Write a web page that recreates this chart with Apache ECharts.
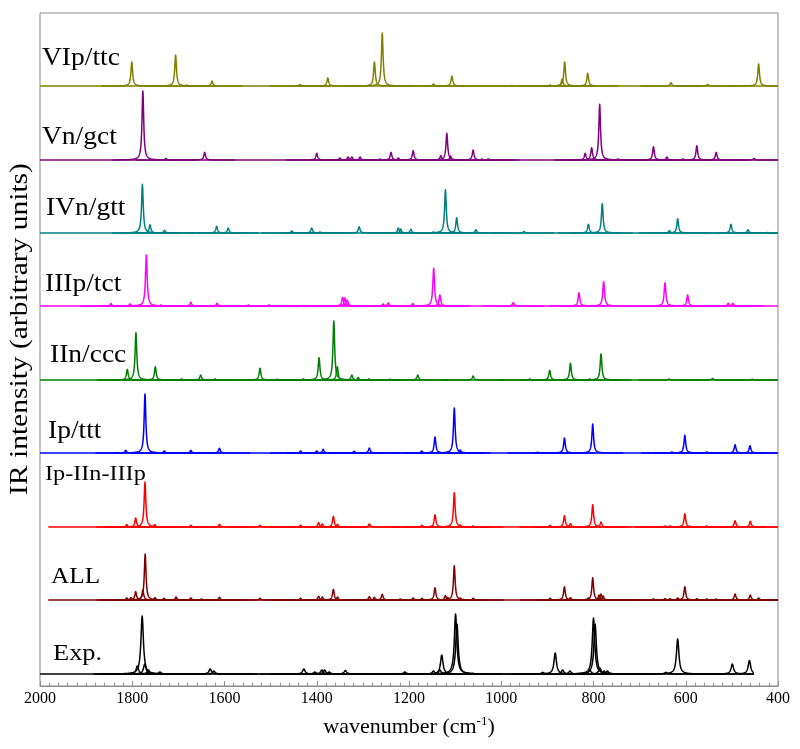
<!DOCTYPE html>
<html><head><meta charset="utf-8">
<script src="https://cdn.jsdelivr.net/npm/echarts@6/dist/echarts.min.js"></script>
<style>html,body{margin:0;padding:0;background:#fff}#c{width:800px;height:749px}</style>
</head><body><div id="c"></div><script>
// ---------- data ----------
const traceNames = ['Exp.', 'ALL', 'Ip-IIn-IIIp', 'Ip/ttt', 'IIn/ccc', 'IIIp/tct', 'IVn/gtt', 'Vn/gct', 'VIp/ttc'];
// vertical offset (arbitrary units) of each trace's baseline
const traceOffsets = [12, 86, 159, 233, 306, 380, 453, 526, 600];
// wavenumber range covered by each trace [start, end]
const traceRanges = [[2000, 452], [1982, 400], [1982, 400], [2000, 400], [2000, 400], [2000, 400], [2000, 400], [2000, 400], [2000, 400]];
const xTickValues = [2000, 1800, 1600, 1400, 1200, 1000, 800, 600, 400];

// peaks: [wavenumber (cm-1), intensity (arb. units)]
const peaksExp = [[1789,8],[1778.5,58],[1773,10],[1765,4],[1740,2],[1631,5],[1623,3],[1428,5],[1404,2],[1389,4],[1383,4],[1373,2],[1338,3.5],[1209,2],[1147,3],[1133,4],[1129,19],[1099,60],[1096,50],[910,1.7],[883,21],[867,4],[851,3],[808,4],[800,56],[796.5,50],[786,6],[777,3],[770,3],[643,1.7],[617.5,35],[499,10],[462,13.5]];
const peaksALL = [[1812,2],[1803,2.3],[1792.6,8.3],[1777,10],[1772,46],[1751,2.3],[1731,1.7],[1705,3],[1673,2],[1650,1],[1611,2.7],[1523,1.7],[1435,1.7],[1396,3.7],[1388,3],[1364,10.7],[1355,3],[1286,3.3],[1275,2.7],[1258,5.7],[1219,1],[1191,2],[1172,1.7],[1143.6,12.3],[1121,4.3],[1116,2.5],[1101.8,34.3],[1089,2],[1061,1.7],[894,1.7],[863,13.3],[850,2.3],[811,2],[801.7,22.3],[788,5],[783.7,6],[779,4],[670,1],[645,1.3],[634,1.3],[617.5,2],[602,13.3],[576,1.3],[554.5,1],[534,1],[493,6],[460,5],[442,2]];
const peaksMix = [[1812,2.3],[1792.6,9],[1772.4,45],[1751,2.3],[1673,1.7],[1611,2.7],[1523,1.7],[1435,1.7],[1396,4.3],[1388,3],[1364,10.7],[1355,2.7],[1286,3],[1172,1.7],[1143.6,12.3],[1101.8,34.3],[1089,2],[1061,1],[894.3,1.7],[863,11.3],[850,3.3],[801.7,22.3],[783.7,5],[645,1],[634,1],[602,13.3],[554.5,1],[493,6.3],[460,5.7]];
const peaksIp = [[1814,2.7],[1772.4,59],[1730.5,2],[1673,2.7],[1611,4.7],[1435,2],[1400,2],[1386,3.7],[1319,1.7],[1286,5],[1172.5,2],[1143.6,16],[1115,1],[1101.8,45],[1089,3],[921,0.7],[863,15],[801.7,29],[630,1],[602,17.7],[554.5,1],[493,8.3],[460.7,7.3]];
const peaksIIn = [[1810.7,10.7],[1792,47.3],[1750,13.3],[1693,1],[1651.6,5],[1620,1],[1523,11.7],[1486,0.7],[1429,1],[1395,22.3],[1363,59],[1355.5,13.3],[1324,5],[1310,2.3],[1287,1],[1241,0.7],[1181,5],[1061,4],[938,1],[895,9.7],[850,16.7],[808,1],[783.7,26],[636,1],[541.7,1.5],[455.7,0.7]];
const peaksIIIp = [[1846,2.3],[1805,2],[1769.5,51],[1738,1],[1673,3.7],[1616,2.7],[1548,1],[1503,1],[1428,0.5],[1344,8.7],[1339,8],[1334,6],[1256,2],[1245,3],[1192,2.3],[1146.5,37.7],[1133,11],[974,3.3],[831.5,13.3],[778,24.3],[645,23.3],[596,11],[507.7,2.7],[498,2.7]];
const peaksIVn = [[1778,48.7],[1761.5,8.3],[1730,2.7],[1617,6.7],[1592,5],[1454,2],[1411,5],[1393,1],[1308,6.3],[1223,5],[1218,4],[1196,3.7],[1147,1],[1121,43.3],[1096.6,15.3],[1055,3.3],[951,1.5],[811,8.7],[781,29.3],[635.6,2.3],[617.5,14.3],[502,8.7],[465,3.3],[422,0.5]];
const peaksVn = [[1777,69],[1727,1.5],[1643,7.7],[1400,6.7],[1350,2],[1332,3],[1324,3],[1306,3],[1263,1],[1239,7.7],[1223,2],[1191,9.3],[1131,4.3],[1118,26.7],[1110,4],[1061,10],[1042,1],[1028,1],[818,6.7],[804,12.3],[786.6,55.7],[747,1],[670,13.3],[641,3],[606,1],[576,14.3],[534,7.7],[452,1.5]];
const peaksVIp = [[1801,24],[1706,31],[1682,1],[1627,5],[1436,1.5],[1376,8],[1275,24],[1258,53],[1147,2],[1107,10],[977,0.5],[894,1],[868,7],[862.5,24],[812.6,12.7],[632,3.3],[552.5,1.5],[442,22]];
const tracePeaks = [peaksExp, peaksALL, peaksMix, peaksIp, peaksIIn, peaksIIIp, peaksIVn, peaksVn, peaksVIp];

// ---------- styles ----------
const colors = ['#000000', '#800000', '#ff0000', '#0000ff', '#008000', '#ff00ff', '#008080', '#800080', '#808000'];
const halfWidths = [3.2, 2.2, 2.2, 2.2, 2.2, 2.2, 2.2, 2.2, 2.2];
const labelStyle = [
  {x: 53, y: 654, size: 24}, {x: 51, y: 577, size: 23}, {x: 45, y: 474, size: 22},
  {x: 48, y: 431, size: 25}, {x: 50, y: 355, size: 25}, {x: 45, y: 284, size: 25},
  {x: 46, y: 208, size: 25}, {x: 42, y: 137, size: 25}, {x: 42, y: 58, size: 25}
];
const FONT = '"Liberation Serif", "Times New Roman", serif';
const AXIS_GRAY = '#8c8c8c';

const chart = echarts.init(document.getElementById('c'), null, {renderer: 'canvas'});

function makePeakRenderer(idx) {
  const off = traceOffsets[idx], hw = halfWidths[idx], col = colors[idx], rg = traceRanges[idx];
  return function (params, api) {
    const x0 = api.value(0), h = api.value(1);
    const pts = [];
    const span = hw * 30;
    for (let d = -span; d <= span + 1e-9; d += hw / 5) {
      const x = x0 + d;
      if (x > rg[0] || x < rg[1]) continue;
      const y = off + h * hw * hw / (d * d + hw * hw);
      pts.push(api.coord([x, y]));
    }
    return {type: 'polyline', shape: {points: pts},
      style: {stroke: col, lineWidth: 1.5, fill: null, lineJoin: 'round'}};
  };
}

const series = [];
traceNames.forEach((name, i) => {
  series.push({
    type: 'line', name: name + ' base', silent: true, symbol: 'none', z: 2,
    data: [[traceRanges[i][0], traceOffsets[i]], [traceRanges[i][1], traceOffsets[i]]],
    lineStyle: {color: colors[i], width: 1.5}
  });
  series.push({
    type: 'custom', name: name, silent: true, z: 3, clip: true,
    renderItem: makePeakRenderer(i),
    data: tracePeaks[i]
  });
});

const graphics = traceNames.map((name, i) => ({
  type: 'text', x: labelStyle[i].x, y: labelStyle[i].y, scaleX: 1.1, z: 10,
  style: {text: name, fill: '#000', font: labelStyle[i].size + 'px ' + FONT,
    textAlign: 'left', textVerticalAlign: 'middle'}
}));
graphics.push({
  type: 'text', x: 20, y: 329, rotation: Math.PI / 2, scaleX: 1.18, z: 10,
  style: {text: 'IR intensity (arbitrary units)', fill: '#000', font: '25px ' + FONT,
    textAlign: 'center', textVerticalAlign: 'middle'}
});

chart.setOption({
  animation: false,
  backgroundColor: '#fff',
  grid: {left: 40, right: 22, top: 13, bottom: 63, show: true, borderColor: AXIS_GRAY, borderWidth: 1, backgroundColor: 'transparent'},
  xAxis: {
    type: 'value', min: 400, max: 2000, interval: 200, inverse: true,
    axisLine: {show: true, lineStyle: {color: AXIS_GRAY, width: 1}},
    axisTick: {show: true, inside: true, length: 5, lineStyle: {color: AXIS_GRAY}},
    minorTick: {show: true, splitNumber: 10, length: 3, lineStyle: {color: AXIS_GRAY}},
    splitLine: {show: false},
    axisLabel: {color: '#000', fontFamily: FONT, fontSize: 16, margin: 5,
      formatter: v => xTickValues.includes(v) ? String(v) : ''},
    name: 'wavenumber (cm{sup|-1})', nameLocation: 'middle', nameGap: 29,
    nameTextStyle: {color: '#000', fontFamily: FONT, fontSize: 22,
      rich: {sup: {fontFamily: FONT, fontSize: 13, padding: [0, 0, 12, 0], color: '#000'}}}
  },
  yAxis: {type: 'value', min: 0, max: 673, show: false},
  graphic: graphics,
  series: series
});
</script></body></html>
